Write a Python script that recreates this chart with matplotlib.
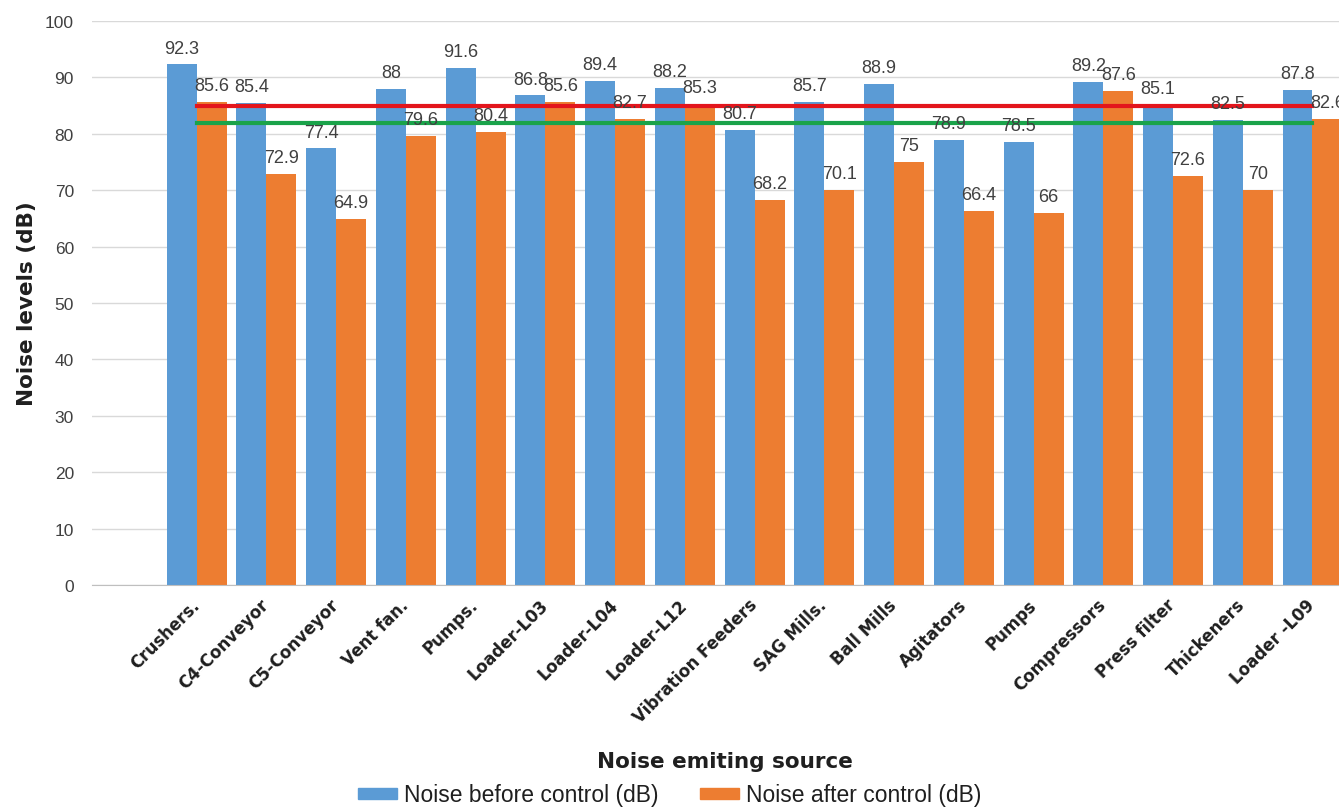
import numpy as np
import matplotlib.pyplot as plt
from matplotlib.patches import Patch

# 噪声源及控制前后的噪声值
sources = ['Crushers.', 'C4-Conveyor', 'C5-Conveyor', 'Vent fan.', 'Pumps.',
           'Loader-L03', 'Loader-L04', 'Loader-L12', 'Vibration Feeders',
           'SAG Mills.', 'Ball Mills', 'Agitators', 'Pumps', 'Compressors',
           'Press filter', 'Thickeners', 'Loader -L09']
before = [92.3, 85.4, 77.4, 88, 91.6, 86.8, 89.4, 88.2, 80.7,
          85.7, 88.9, 78.9, 78.5, 89.2, 85.1, 82.5, 87.8]
after = [85.6, 72.9, 64.9, 79.6, 80.4, 85.6, 82.7, 85.3, 68.2,
         70.1, 75, 66.4, 66, 87.6, 72.6, 70, 82.6]
limit_red = 85
limit_green = 82

blue = '#5B9BD5'
orange = '#ED7D31'
txt = '#404040'
dark = '#1F1F1F'
lib = ['Liberation Sans', 'DejaVu Sans']

fig = plt.figure(figsize=(13.39, 8.12), dpi=100)
ax = fig.add_axes([0.0687, 0.2783, 0.9313, 0.6946])

x = np.arange(len(sources))
w = 0.43
ax.bar(x - w/2, before, w, color=blue, zorder=2)
ax.bar(x + w/2, after, w, color=orange, zorder=2)

# 数据标签
for i in range(len(x)):
    ax.text(x[i] - w/2, before[i] + 1.4, '%g' % before[i], ha='center', va='bottom',
            fontsize=13, color=txt, family=lib, zorder=4)
    ax.text(x[i] + w/2, after[i] + 1.4, '%g' % after[i], ha='center', va='bottom',
            fontsize=13, color=txt, family=lib, zorder=4)

# 限值线
ax.plot([x[0], x[-1]], [limit_red, limit_red], color='#E3151C', lw=3, zorder=3)
ax.plot([x[0], x[-1]], [limit_green, limit_green], color='#1AA34A', lw=3, zorder=3)

ax.set_xlim(-1.5, 16.38)
ax.set_ylim(0, 100)
ax.set_yticks(range(0, 101, 10))
ax.grid(axis='y', color='#D9D9D9', lw=1, zorder=0)
for s in ['top', 'right', 'left']:
    ax.spines[s].set_visible(False)
ax.spines['bottom'].set_color('#BFBFBF')
ax.tick_params(axis='y', length=0, labelsize=12.5, labelcolor=txt, pad=13)
for t in ax.get_yticklabels():
    t.set_family(lib)
ax.tick_params(axis='x', length=0, pad=12)
ax.set_xticks(x)
ax.set_xticklabels(sources, rotation=45, ha='right', va='center', rotation_mode='anchor',
                   fontsize=12, fontweight='bold', color=dark)

ax.set_ylabel('Noise levels (dB)', fontsize=15.5, fontweight='bold', color=dark, labelpad=6)
fig.text(725/1339, 1 - 762/812, 'Noise emiting source', ha='center', va='center',
         fontsize=15.5, fontweight='bold', color=dark)

handles = [Patch(color=blue, label='Noise before control (dB)'),
           Patch(color=orange, label='Noise after control (dB)')]
leg = fig.legend(handles=handles, loc='center', bbox_to_anchor=(0.5, 1 - 796/812), ncol=2,
                 frameon=False, prop={'family': lib, 'size': 16.5}, handlelength=1.7,
                 handleheight=0.4, columnspacing=1.8, handletextpad=0.3)
for t in leg.get_texts():
    t.set_color(dark)

fig.savefig('out.png', dpi=100)
